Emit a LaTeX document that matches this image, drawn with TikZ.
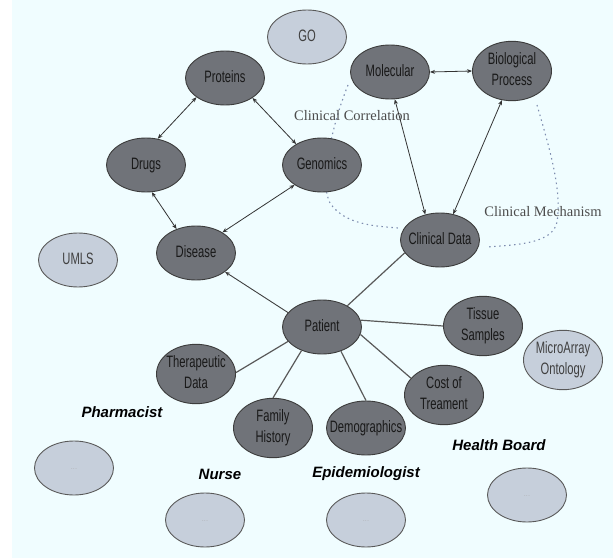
\documentclass[tikz,border=0pt]{standalone}
\usepackage{fontspec}
\setmainfont{Liberation Serif}
\newfontfamily\nodefont[FakeStretch=0.68]{Liberation Sans}
\newfontfamily\rolefont{Liberation Sans}
\usetikzlibrary{shapes.geometric,arrows.meta}
\definecolor{bgc}{RGB}{240,253,255}
\definecolor{darkfill}{RGB}{112,115,121}
\definecolor{lightfill}{RGB}{198,207,219}
\definecolor{edgec}{RGB}{60,60,60}
\definecolor{dotc}{RGB}{125,140,175}
\newcommand\nt[1]{\makebox[0pt]{\begin{tabular}{@{}c@{}}#1\end{tabular}}}
\begin{document}
\begin{tikzpicture}[x=1pt,y=-1pt,
  basenode/.style={ellipse,minimum width=79pt,minimum height=54pt,inner sep=0pt,line width=0.9pt,
    font=\nodefont\fontsize{16.5}{21}\selectfont},
  darknode/.style={basenode,draw=edgec,fill=darkfill,text=black!90},
  lightnode/.style={basenode,draw=black!65,fill=lightfill,text=black!75},
  emptynode/.style={lightnode,font=\sffamily\fontsize{7}{8}\selectfont,text=black!35},
  biarrow/.style={{Stealth[length=5pt,width=4pt]}-{Stealth[length=5pt,width=4pt]},draw=black!80,line width=0.8pt},
  onearrow/.style={-{Stealth[length=5pt,width=4pt]},draw=black!75,line width=0.9pt},
  spoke/.style={draw=black!65,line width=1.2pt},
  dotline/.style={draw=dotc,line width=1.1pt,dash pattern=on 1.5pt off 3.5pt},
  relabel/.style={font=\fontsize{14.5}{17}\selectfont,text=black!70},
  rolelabel/.style={font=\rolefont\bfseries\itshape\fontsize{15}{18}\selectfont,text=black}]
\useasboundingbox (0,0) rectangle (613,559);
\fill[bgc] (12,0) rectangle (613,558);
% dotted relation curves
\draw[dotline] (348,85) .. controls (330,130) and (320,185) .. (330,203)
  .. controls (345,225) and (375,226) .. (398,228);
\draw[dotline] (537,105) .. controls (550,150) and (562,190) .. (557,222)
  .. controls (553,245) and (510,245) .. (487,247);
% nodes
\node[lightnode] (go) at (307,37) {\nt{GO}};
\node[darknode] (proteins) at (225,78) {\nt{Proteins}};
\node[darknode] (molecular) at (390,72) {\nt{Molecular}};
\node[darknode] (bio) at (512,71) {\nt{Biological\\Process}};
\node[darknode] (drugs) at (146,165) {\nt{Drugs}};
\node[darknode] (genomics) at (322,165) {\nt{Genomics}};
\node[darknode] (disease) at (196,253) {\nt{Disease}};
\node[lightnode] (umls) at (78,260) {\nt{UMLS}};
\node[darknode] (clinical) at (440,240) {\nt{Clinical Data}};
\node[darknode] (patient) at (322,327) {\nt{Patient}};
\node[darknode] (tissue) at (483,326) {\nt{Tissue\\Samples}};
\node[lightnode] (microarray) at (563,360) {\nt{MicroArray\\Ontology}};
\node[darknode] (therapeutic) at (196,374) {\nt{Therapeutic\\Data}};
\node[darknode] (family) at (273,428) {\nt{Family\\History}};
\node[darknode] (demographics) at (366,428) {\nt{Demographics}};
\node[darknode] (cost) at (444,395) {\nt{Cost of\\Treament}};
\node[emptynode] (e1) at (74,468) {\nt{...}};
\node[emptynode] (e2) at (205,520) {\nt{...}};
\node[emptynode] (e3) at (366,520) {\nt{...}};
\node[emptynode] (e4) at (527,495) {\nt{...}};
% labels
\node[relabel] (corr) at (352,116) {Clinical Correlation};
\node[relabel] (mech) at (543,212) {Clinical Mechanism};
\node[rolelabel] (pharm) at (122,412) {Pharmacist};
\node[rolelabel] (nurse) at (220,474) {Nurse};
\node[rolelabel] (epid) at (366,474) {Epidemiologist};
\node[rolelabel] (hb) at (499,445) {Health Board};
% connectors
\draw[biarrow] (proteins.214) -- (drugs.66);
\draw[biarrow] (proteins.324) -- (genomics.141);
\draw[biarrow] (drugs.282) -- (disease.129);
\draw[biarrow] (genomics.216) -- (disease.38);
\draw[biarrow] (molecular.east) -- (bio.west);
\draw[biarrow] (molecular.280) -- (clinical.120);
\draw[biarrow] (bio.251) -- (clinical.63);
\draw[onearrow] (patient.157) -- (disease.327);
\draw[spoke] (patient.40) -- (clinical.200);
\draw[spoke] (patient.10) -- (tissue.180);
\draw[spoke] (patient.203) -- (therapeutic.2);
\draw[spoke] (patient.229) -- (family.90);
\draw[spoke] (patient.308) -- (demographics.90);
\draw[spoke] (patient.349) -- (cost.153);
\end{tikzpicture}
\end{document}
